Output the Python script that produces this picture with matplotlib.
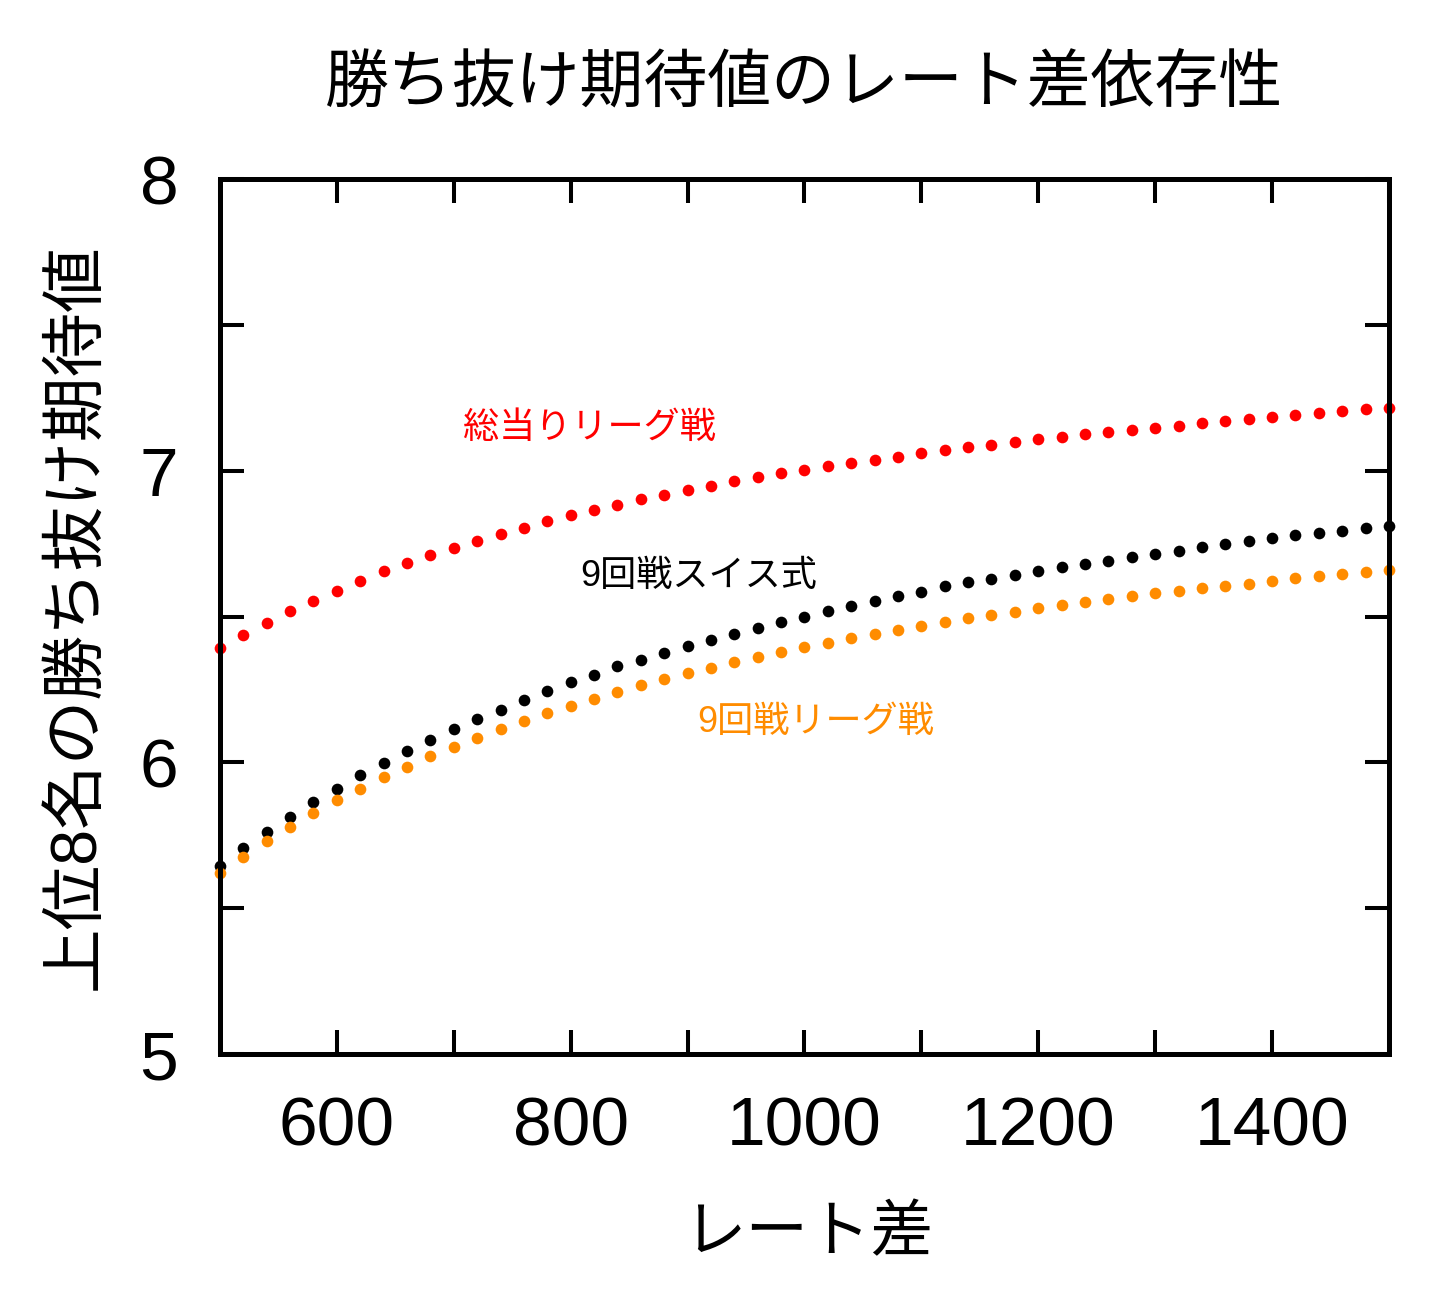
import matplotlib
matplotlib.use("Agg")
import matplotlib.pyplot as plt
import numpy as np
from matplotlib.ticker import MultipleLocator

plt.rcParams['font.family'] = ['Liberation Sans', 'Noto Sans CJK JP', 'DejaVu Sans']

# rating difference, every 20 from 500 to 1500
rate_diff = np.arange(500, 1501, 20)

# 総当りリーグ戦 (round robin)
round_robin = [6.391, 6.437, 6.478, 6.518, 6.553, 6.589, 6.623, 6.655, 6.683, 6.710,
               6.735, 6.759, 6.782, 6.805, 6.826, 6.847, 6.866, 6.883, 6.902, 6.918,
               6.933, 6.949, 6.963, 6.977, 6.991, 7.003, 7.015, 7.027, 7.038, 7.048,
               7.061, 7.071, 7.080, 7.089, 7.099, 7.109, 7.117, 7.125, 7.131, 7.139,
               7.146, 7.154, 7.162, 7.169, 7.176, 7.183, 7.191, 7.198, 7.203, 7.210,
               7.216]

# 9回戦スイス式 (9 round swiss)
swiss9 = [5.645, 5.705, 5.760, 5.813, 5.863, 5.910, 5.957, 5.998, 6.040, 6.078,
          6.113, 6.150, 6.181, 6.214, 6.246, 6.277, 6.301, 6.329, 6.351, 6.375,
          6.399, 6.418, 6.440, 6.461, 6.480, 6.498, 6.518, 6.537, 6.553, 6.571,
          6.585, 6.603, 6.618, 6.630, 6.642, 6.657, 6.669, 6.681, 6.692, 6.705,
          6.715, 6.725, 6.737, 6.748, 6.758, 6.770, 6.779, 6.788, 6.794, 6.803,
          6.811]

# 9回戦リーグ戦 (9 round league)
league9 = [5.619, 5.674, 5.729, 5.778, 5.826, 5.870, 5.910, 5.949, 5.985, 6.021,
           6.053, 6.085, 6.114, 6.143, 6.168, 6.193, 6.218, 6.242, 6.264, 6.286,
           6.307, 6.325, 6.344, 6.362, 6.379, 6.395, 6.410, 6.425, 6.439, 6.454,
           6.469, 6.481, 6.494, 6.505, 6.516, 6.529, 6.540, 6.550, 6.561, 6.570,
           6.580, 6.588, 6.598, 6.606, 6.613, 6.622, 6.631, 6.639, 6.646, 6.654,
           6.661]

fig = plt.figure(figsize=(14.5, 13), dpi=100)
ax = fig.add_axes([0.1517, 0.1892, 0.8062, 0.6731])

ax.plot(rate_diff, round_robin, 'o', color='#ff0000', markersize=8.4, markeredgewidth=0, clip_on=False)
ax.plot(rate_diff, swiss9, 'o', color='black', markersize=8.4, markeredgewidth=0, clip_on=False)
ax.plot(rate_diff, league9, 'o', color='#ff8c00', markersize=8.4, markeredgewidth=0, clip_on=False)

# curve labels
ax.text(708, 7.145, "総当りリーグ戦", color='#ff0000', fontsize=26, ha='left', va='center')
ax.text(808, 6.639, "9回戦スイス式", color='black', fontsize=26, ha='left', va='center')
ax.text(908, 6.138, "9回戦リーグ戦", color='#ff8c00', fontsize=26, ha='left', va='center')

ax.set_xlim(500, 1500)
ax.set_ylim(5, 8)
ax.xaxis.set_major_locator(MultipleLocator(200))
ax.xaxis.set_minor_locator(MultipleLocator(100))
ax.yaxis.set_major_locator(MultipleLocator(1))
ax.yaxis.set_minor_locator(MultipleLocator(0.5))
ax.tick_params(which='both', direction='in', top=True, right=True,
               length=17, width=2.9, labelsize=50)
ax.tick_params(axis='x', which='major', pad=30)
ax.tick_params(axis='y', which='major', pad=30)
for s in ax.spines.values():
    s.set_linewidth(3.6)

ax.set_title("勝ち抜け期待値のレート差依存性", fontsize=46, y=1.097, va='center')
ax.set_xlabel("レート差", fontsize=45, va='center')
ax.xaxis.set_label_coords(0.503, -0.207)
ax.set_ylabel("上位8名の勝ち抜け期待値", fontsize=46.5, va='center')
ax.yaxis.set_label_coords(-0.122, 0.5)

fig.savefig("out.png", dpi=100)
